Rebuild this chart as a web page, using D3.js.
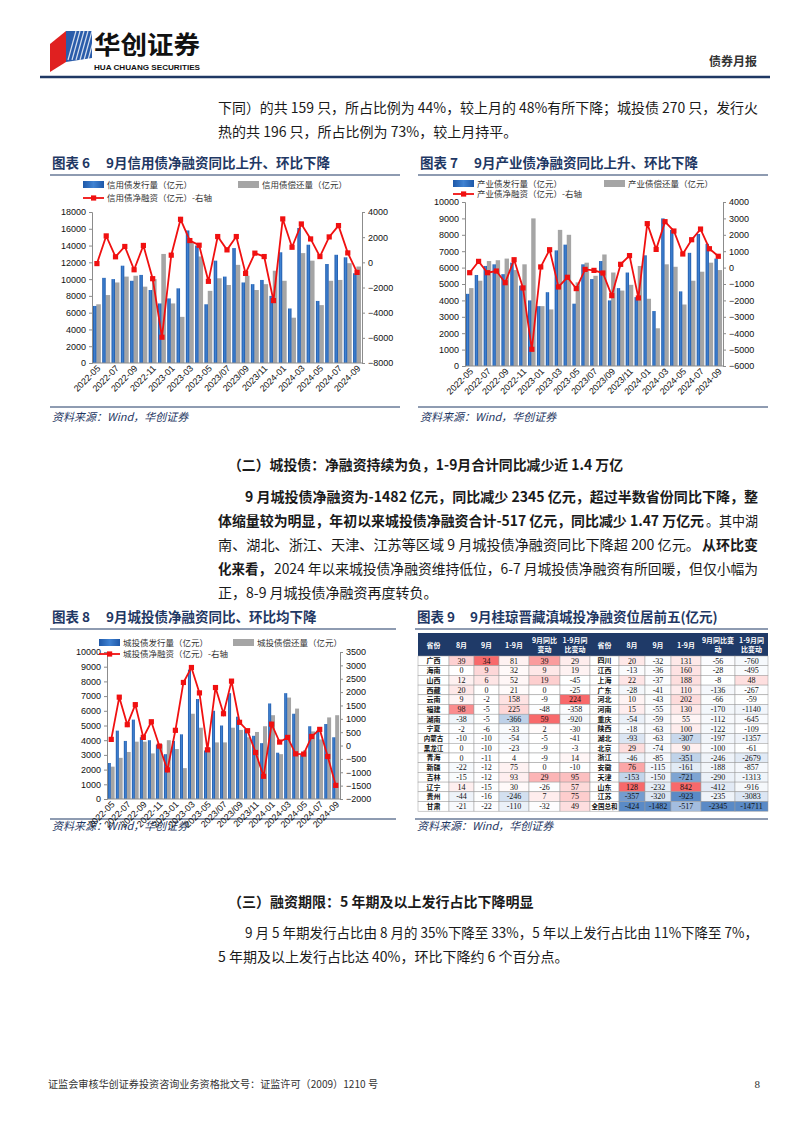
<!DOCTYPE html>
<html><head><meta charset="utf-8">
<script src="https://cdn.jsdelivr.net/npm/d3@7"></script>
<style>body{margin:0;background:#fff;}svg{display:block;}</style>
</head><body>
<svg id="page" width="802" height="1133"></svg>
<script>
// ---------------- DATA ----------------
const months = ["2022-05","2022-06","2022-07","2022-08","2022-09","2022-10","2022-11","2022-12",
"2023-01","2023-02","2023-03","2023-04","2023-05","2023-06","2023-07","2023-08","2023-09","2023-10","2023-11","2023-12",
"2024-01","2024-02","2024-03","2024-04","2024-05","2024-06","2024-07","2024-08","2024-09"];
const tickMonths = ["2022-05","2022-07","2022-09","2022-11","2023-01","2023-03","2023-05","2023-07","2023-09","2023-11","2024-01","2024-03","2024-05","2024-07","2024-09"];
const tickLabels = ["2022-05","2022-07","2022-09","2022-11","2023-01","2023-03","2023-05","2023/07","2023/09","2023/11","2024-01","2024-03","2024-05","2024-07","2024-09"];

const creditIssue = [6800,10150,10000,11600,9800,10500,8700,7100,7700,8900,15800,14000,7000,12200,10300,13700,9600,9400,9900,8000,13200,6500,16100,14100,7400,11800,12900,12600,10700];
const creditRepay = [7000,8100,9600,10300,10400,9100,10000,13000,7100,5500,14300,12700,8600,10100,9300,11700,10400,8700,9400,11000,9800,5400,13100,12200,6900,9800,9900,11900,11500];
const creditNet   = [-100,2100,440,1260,-590,1340,-1300,-5950,570,3420,1730,1360,-1510,2050,990,2050,-880,730,460,-3040,3450,1200,3050,1860,460,2020,2920,750,-800];
const creditLeftTicks  = [0,2000,4000,6000,8000,10000,12000,14000,16000,18000];
const creditRightTicks = [-8000,-6000,-4000,-2000,0,2000,4000];

const industryIssue = [4400,5550,6100,6200,5600,6300,4900,4000,3650,4500,7050,7400,3800,6200,5300,6400,4000,4750,5700,4200,6750,3350,9000,8300,4550,6900,8050,7450,6550];
const industryRepay = [4750,5200,6400,6450,6550,5850,6200,9000,3650,3450,8300,8000,5100,6300,5500,6800,5700,4600,4950,6100,4100,2300,6200,6050,3750,5200,5750,6300,5850];
const industryNet   = [-310,380,-310,-210,-920,480,-1240,-4980,40,1090,-1180,-590,-1280,-110,-170,-330,-1710,200,730,-1850,2680,1110,2800,2230,830,1700,2350,1150,690];
const industryLeftTicks  = [0,1000,2000,3000,4000,5000,6000,7000,8000,9000,10000];
const industryRightTicks = [-6000,-5000,-4000,-3000,-2000,-1000,0,1000,2000,3000,4000];

const cityIssue = [2450,4650,3950,5400,4200,4000,3700,3050,3950,4400,8800,6800,3300,6000,5000,7200,5600,4750,4300,3800,6500,3150,7200,5800,3000,4950,4650,5100,4200];
const cityRepay = [2200,2800,3200,3900,3900,3100,3720,4000,3400,2100,5800,4850,3500,3850,3850,4850,4700,4200,4560,4950,5700,3050,6900,6150,3320,4600,4050,5550,5700];
const cityNet   = [230,1810,780,1530,305,890,-20,-910,570,2360,2920,1970,-160,2170,1190,2410,870,555,-260,-1150,800,130,305,-310,-320,340,605,-410,-1490];
const cityLeftTicks  = [0,1000,2000,3000,4000,5000,6000,7000,8000,9000,10000];
const cityRightTicks = [-2000,-1500,-1000,-500,0,500,1000,1500,2000,2500,3000,3500];

const tableHeadLeft  = ["省份","8月","9月","1-9月","9月同比|变动","1-9月同|比变动"];
const tableHeadRight = ["省份","8月","9月","1-9月","9月同比变|动","1-9月同|比变动"];
const provLeft  = ["广西","海南","山西","西藏","云南","福建","湖南","宁夏","内蒙古","黑龙江","青海","新疆","吉林","辽宁","贵州","甘肃"];
const valsLeft  = [[39,34,81,39,29],[0,9,32,9,19],[12,6,52,19,-45],[20,0,21,0,-25],[9,-2,158,-9,224],[98,-5,225,-48,-358],
[-38,-5,-366,59,-920],[-2,-6,-33,2,-30],[-10,-10,-54,-5,-41],[0,-10,-23,-9,-3],[0,-11,4,-9,14],[-22,-12,75,0,-10],
[-15,-12,93,29,95],[14,-15,30,-26,57],[-44,-16,-246,7,75],[-21,-22,-110,-32,49]];
const provRight = ["四川","江西","上海","广东","河北","河南","重庆","陕西","湖北","北京","浙江","安徽","天津","山东","江苏","全国总和"];
const valsRight = [[20,-32,131,-56,-760],[-13,-36,160,-28,-495],[22,-37,188,-8,48],[-28,-41,110,-136,-267],[10,-43,202,-66,-59],
[15,-55,130,-170,-1140],[-54,-59,55,-112,-645],[-18,-63,100,-122,-109],[-93,-63,-307,-197,-1357],[29,-74,90,-100,-61],
[-46,-85,-351,-246,-2679],[76,-115,-161,-188,-857],[-153,-150,-721,-290,-1313],[128,-232,842,-412,-916],
[-357,-320,-923,-235,-3083],[-424,-1482,-517,-2345,-14711]];

// ---------------- SETUP ----------------
const CJK = "'Noto Sans CJK SC','Noto Sans',sans-serif";
const NUM = "'Liberation Sans',Arial,sans-serif";
const SERIF = "'Liberation Serif','Times New Roman',serif";
const NAVY = "#1F3864";
const svg = d3.select("#page");
svg.append("rect").attr("width",802).attr("height",1133).attr("fill","#fff");
const defs = svg.append("defs");
const bg = defs.append("linearGradient").attr("id","blueGrad").attr("x1","0").attr("x2","1").attr("y1","0").attr("y2","0");
bg.append("stop").attr("offset","0").attr("stop-color","#1E58A8");
bg.append("stop").attr("offset","0.5").attr("stop-color","#3F82D2");
bg.append("stop").attr("offset","1").attr("stop-color","#1E58A8");

function txt(x,y,s,o={}) {
  const t = svg.append("text").attr("x",x).attr("y",y).text(s)
    .attr("font-family",o.family||CJK).attr("font-size",o.size||14)
    .attr("fill",o.fill||"#1a1a1a").attr("font-weight",o.weight||"normal");
  if (o.anchor) t.attr("text-anchor",o.anchor);
  if (o.style) t.attr("font-style",o.style);
  if (o.len) t.attr("textLength",o.len).attr("lengthAdjust","spacingAndGlyphs");
  return t;
}
// a justified line made of segments: [text, bold, x-start, x-end]
function segLine(y,segs) {
  segs.forEach(s=>{
    const o = {size:14, weight: s[1]?"bold":"normal"};
    if (s[3]) o.len = s[3]-s[2];
    txt(s[2],y,s[0],o);
  });
}

// ---------------- HEADER ----------------
const logo = svg.append("g");
logo.append("polygon").attr("points","50,44 66,31 66,62 50,72").attr("fill","#E02020");
logo.append("polygon").attr("points","66,31 92,31 92,58 66,62").attr("fill","#2A5CAA");
for (let i=0;i<7;i++){
  logo.append("line").attr("x1",68+i*4).attr("y1",60).attr("x2",76+i*4).attr("y2",31)
   .attr("stroke","#fff").attr("stroke-width",1.2).attr("opacity",0.8);
}
txt(94,54,"华创证券",{size:25,weight:"bold",fill:"#111",len:106});
txt(94,70,"HUA CHUANG SECURITIES",{size:8,weight:"bold",fill:"#111",family:NUM,len:106});
txt(757,66,"债券月报",{size:12,weight:"bold",fill:"#333",anchor:"end"});
svg.append("line").attr("x1",40).attr("x2",770).attr("y1",77).attr("y2",77).attr("stroke",NAVY).attr("stroke-width",2.5);

// ---------------- TOP PARAGRAPH ----------------
segLine(113,[["下同）的共 159 只，所占比例为 44%，较上月的 48%有所下降；城投债 270 只，发行火",0,218,758]]);
segLine(137,[["热的共 196 只，所占比例为 73%，较上月持平。",0,218]]);

// ---------------- CHART TITLES ----------------
function chartTitle(x1,x2,yb,num,title,lineX2) {
  txt(x1,yb,"图表 "+num,{size:13.5,weight:"bold",fill:NAVY});
  txt(x2,yb,title,{size:13.5,weight:"bold",fill:NAVY});
  svg.append("line").attr("x1",x1-2).attr("x2",lineX2).attr("y1",yb+7).attr("y2",yb+7).attr("stroke",NAVY).attr("stroke-width",1.2);
}
chartTitle(52,106,168,6,"9月信用债净融资同比上升、环比下降",400);
chartTitle(420,474,168,7,"9月产业债净融资同比上升、环比下降",768);
chartTitle(52,106,622,8,"9月城投债净融资同比、环比均下降",396);
chartTitle(417,470,622,9,"9月桂琼晋藏滇城投净融资位居前五(亿元)",768);

function source(x,y,x2,ly) {
  svg.append("line").attr("x1",x).attr("x2",x2).attr("y1",ly).attr("y2",ly).attr("stroke",NAVY).attr("stroke-width",1);
  txt(x+2,y,"资料来源：Wind，华创证券",{size:11,style:"italic",fill:NAVY});
}
source(50,421,400,407); source(418,421,768,407); source(50,830,396,819); source(415,830,768,819);

// ---------------- COMBO CHARTS ----------------
function drawCombo(c) {
  const g = svg.append("g");
  const x = d3.scaleBand().domain(months).range([c.left,c.right]).paddingInner(0.1).paddingOuter(0.08);
  const yL = d3.scaleLinear().domain([c.lt[0], c.lt[c.lt.length-1]]).range([c.bottom,c.top]);
  const yR = d3.scaleLinear().domain([c.rt[0], c.rt[c.rt.length-1]]).range([c.bottom,c.top]);
  const bw = x.bandwidth();
  g.selectAll(".gray").data(months).join("rect")
    .attr("x",d=>x(d)+bw*0.42).attr("width",bw*0.55)
    .attr("y",(d,i)=>yL(c.repay[i])).attr("height",(d,i)=>yL(0)-yL(c.repay[i])).attr("fill","#A5A5A5");
  g.selectAll(".blue").data(months).join("rect")
    .attr("x",d=>x(d)+bw*0.02).attr("width",bw*0.42)
    .attr("y",(d,i)=>yL(c.issue[i])).attr("height",(d,i)=>yL(0)-yL(c.issue[i])).attr("fill","url(#blueGrad)");
  const axL = g.append("g").attr("transform",`translate(${c.left},0)`)
    .call(d3.axisLeft(yL).tickValues(c.lt).tickSize(3).tickPadding(3).tickFormat(d3.format("d")));
  const axR = g.append("g").attr("transform",`translate(${c.right},0)`)
    .call(d3.axisRight(yR).tickValues(c.rt).tickSize(3).tickPadding(3).tickFormat(d3.format("d")));
  [axL,axR].forEach(a=>{
    a.selectAll("path,line").attr("stroke","#8c8c8c");
    a.selectAll("text").attr("font-family",NUM).attr("font-size",9).attr("fill","#111");
  });
  const axB = g.append("g").attr("transform",`translate(0,${c.bottom})`)
    .call(d3.axisBottom(x).tickValues(tickMonths).tickSize(0).tickPadding(0)
      .tickFormat(d=>tickLabels[tickMonths.indexOf(d)]));
  axB.select("path").attr("stroke","#8c8c8c").attr("d",`M${c.left},0H${c.right}`);
  axB.selectAll("text").attr("font-family",NUM).attr("font-size",9).attr("fill","#111")
    .attr("text-anchor","end").attr("dy",0).attr("transform","translate(4,6) rotate(-45)");
  const cx = d=>x(d)+bw/2;
  g.append("path").datum(c.net).attr("fill","none").attr("stroke","#F01010").attr("stroke-width",1.8)
    .attr("d",d3.line().x((v,i)=>cx(months[i])).y(v=>yR(v)));
  g.selectAll(".mk").data(c.net).join("rect")
    .attr("x",(v,i)=>cx(months[i])-2.6).attr("y",v=>yR(v)-2.6).attr("width",5.2).attr("height",5.2).attr("fill","#F01010");
  const lg = svg.append("g").attr("font-family",CJK).attr("font-size",8.5).attr("fill","#333");
  lg.append("rect").attr("x",c.lx1).attr("y",c.ly1-4).attr("width",21).attr("height",7).attr("fill","url(#blueGrad)");
  lg.append("text").attr("x",c.lx1+24).attr("y",c.ly1+3).text(c.names[0]);
  lg.append("rect").attr("x",c.lx2).attr("y",c.ly1-4).attr("width",21).attr("height",7).attr("fill","#A5A5A5");
  lg.append("text").attr("x",c.lx2+24).attr("y",c.ly1+3).text(c.names[1]);
  lg.append("line").attr("x1",c.lx1).attr("x2",c.lx1+21).attr("y1",c.ly2).attr("y2",c.ly2).attr("stroke","#F01010").attr("stroke-width",1.8);
  lg.append("rect").attr("x",c.lx1+8).attr("y",c.ly2-2.6).attr("width",5.2).attr("height",5.2).attr("fill","#F01010");
  lg.append("text").attr("x",c.lx1+24).attr("y",c.ly2+3).text(c.names[2]);
}
drawCombo({left:92,right:362,top:212,bottom:363,lt:creditLeftTicks,rt:creditRightTicks,
  issue:creditIssue,repay:creditRepay,net:creditNet,lx1:83,lx2:238,ly1:185,ly2:198,
  names:["信用债发行量（亿元）","信用债偿还量（亿元）","信用债净融资（亿元）-右轴"]});
drawCombo({left:465,right:723,top:202,bottom:366,lt:industryLeftTicks,rt:industryRightTicks,
  issue:industryIssue,repay:industryRepay,net:industryNet,lx1:453,lx2:604,ly1:184,ly2:194,
  names:["产业债发行量（亿元）","产业债偿还量（亿元）","产业债净融资（亿元）-右轴"]});
drawCombo({left:107,right:340,top:652,bottom:799,lt:cityLeftTicks,rt:cityRightTicks,
  issue:cityIssue,repay:cityRepay,net:cityNet,lx1:99,lx2:233,ly1:643,ly2:654,
  names:["城投债发行量（亿元）","城投债偿还量（亿元）","城投债净融资（亿元）-右轴"]});

// ---------------- TABLE ----------------
(function(){
  const x0 = 418, y0 = 633, headH = 23, rowH = 9.7;
  const widths = [31,25,25,30,31,30,29,26,26,30,34,33];
  const xs = [x0]; widths.forEach(w=>xs.push(xs[xs.length-1]+w));
  const allVals = valsLeft.concat(valsRight);
  const ext = [0,1,2,3,4].map(j=>[d3.min(allVals,r=>r[j]), d3.max(allVals,r=>r[j])]);
  const color = (v,j)=> v>=0 ? d3.interpolateRgb("#ffffff","#F8696B")(ext[j][1]>0? v/ext[j][1]:0)
                              : d3.interpolateRgb("#ffffff","#5A8AC6")(v/ext[j][0]);
  const tg = svg.append("g");
  tg.append("rect").attr("x",xs[0]).attr("y",y0).attr("width",xs[12]-xs[0]).attr("height",headH).attr("fill","#1F3A68");
  const heads = tableHeadLeft.concat(tableHeadRight);
  heads.forEach((h,k)=>{
    const cxm = (xs[k]+xs[k+1])/2;
    const lines = h.split("|");
    lines.forEach((s,li)=>{
      const yy = lines.length===1 ? y0+headH/2+3 : y0+headH/2-2+li*9;
      tg.append("text").attr("x",cxm).attr("y",yy).attr("text-anchor","middle").text(s)
        .attr("font-family",CJK).attr("font-size",7).attr("font-weight","bold").attr("fill","#fff");
    });
  });
  function half(provs, vals, off) {
    provs.forEach((p,i)=>{
      const yy = y0+headH+i*rowH;
      tg.append("rect").attr("x",xs[off]).attr("y",yy).attr("width",widths[off]).attr("height",rowH)
        .attr("fill","#fff").attr("stroke","#9a9a9a").attr("stroke-width",0.5);
      tg.append("text").attr("x",(xs[off]+xs[off+1])/2).attr("y",yy+rowH/2+2.6).attr("text-anchor","middle").text(p)
        .attr("font-family",CJK).attr("font-size",p.length>2?6.5:7).attr("font-weight","bold").attr("fill","#111");
      vals[i].forEach((v,j)=>{
        const k = off+1+j;
        tg.append("rect").attr("x",xs[k]).attr("y",yy).attr("width",widths[k]).attr("height",rowH)
          .attr("fill",color(v,j)).attr("stroke","#9a9a9a").attr("stroke-width",0.5);
        tg.append("text").attr("x",(xs[k]+xs[k+1])/2).attr("y",yy+rowH/2+2.8).attr("text-anchor","middle").text(v)
          .attr("font-family",SERIF).attr("font-size",8).attr("fill","#111");
      });
    });
  }
  half(provLeft, valsLeft, 0);
  half(provRight, valsRight, 6);
})();

// ---------------- SECTION 2 ----------------
txt(228,470,"（二）城投债：净融资持续为负，1-9月合计同比减少近 1.4 万亿",{size:14,weight:"bold",len:395});
segLine(502,[["9 月城投债净融资为-1482 亿元，同比减少 2345 亿元，超过半数省份同比下降，整",1,245,758]]);
segLine(526,[["体缩量较为明显，年初以来城投债净融资合计-517 亿元，同比减少 1.47 万亿元",1,218,704],["。其中湖",0,706,758]]);
segLine(550,[["南、湖北、浙江、天津、江苏等区域 9 月城投债净融资同比下降超 200 亿元。",0,218,700],["从环比变",1,702,758]]);
segLine(574,[["化来看，",1,218,272],["2024 年以来城投债净融资维持低位，6-7 月城投债净融资有所回暖，但仅小幅为",0,274,758]]);
segLine(598,[["正，8-9 月城投债净融资再度转负。",0,218]]);

// ---------------- SECTION 3 ----------------
txt(228,907,"（三）融资期限：5 年期及以上发行占比下降明显",{size:14,weight:"bold"});
segLine(938,[["9 月 5 年期发行占比由 8 月的 35%下降至 33%，5 年以上发行占比由 11%下降至 7%，",0,245,758]]);
segLine(962,[["5 年期及以上发行占比达 40%，环比下降约 6 个百分点。",0,218]]);

// ---------------- FOOTER ----------------
txt(48,1088,"证监会审核华创证券投资咨询业务资格批文号：证监许可（2009）1210 号",{size:10.5,fill:"#333",len:330});
txt(760,1088,"8",{size:11,fill:"#333",anchor:"end",family:SERIF});
</script>
</body></html>
